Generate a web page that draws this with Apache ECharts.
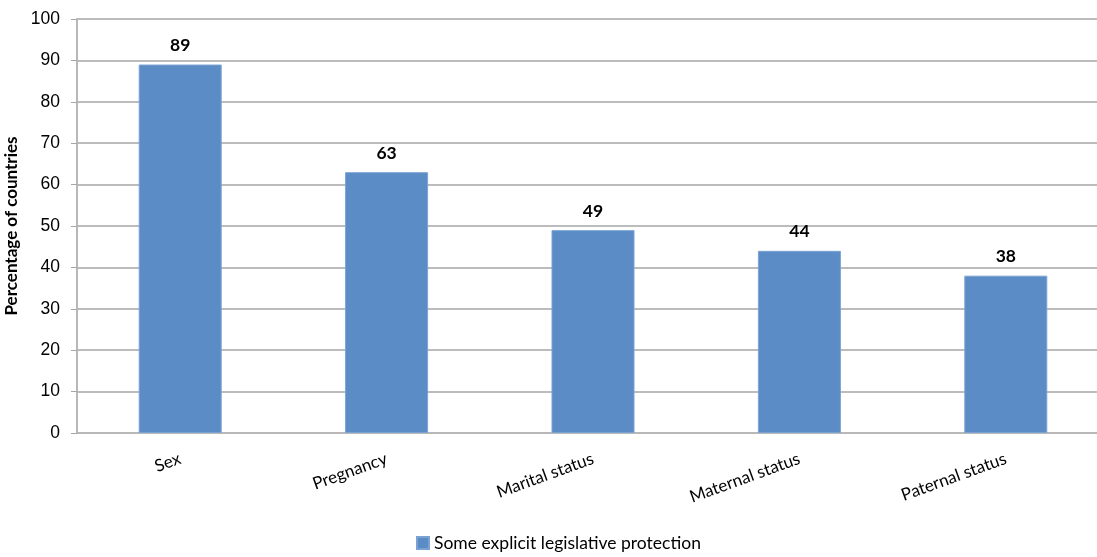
<!DOCTYPE html>
<html>
<head>
<meta charset="utf-8">
<script src="https://cdn.jsdelivr.net/npm/echarts@6/dist/echarts.min.js"></script>
<style>
  html, body { margin: 0; padding: 0; background: #ffffff; }
  #chart { width: 1097px; height: 557px; }
</style>
</head>
<body>
<div id="chart"></div>
<script>
// Grounds for discrimination covered by legislation
const categories = ['Sex', 'Pregnancy', 'Marital status', 'Maternal status', 'Paternal status'];
const protectionShare = [89, 63, 49, 44, 38];
const seriesName = 'Some explicit legislative protection';
const yAxisTitle = 'Percentage of countries';

const chart = echarts.init(document.getElementById('chart'), null, { renderer: 'canvas' });

chart.setOption({
  backgroundColor: '#ffffff',
  animation: false,
  // the plot runs slightly past the right edge of the canvas
  grid: { left: 77, top: 19, width: 1032, height: 414, containLabel: false, outerBoundsMode: 'none' },
  legend: {
    data: [seriesName],
    bottom: 0,
    left: 411,
    itemWidth: 12,
    itemHeight: 12,
    itemGap: 4,
    icon: 'rect',
    textStyle: { fontFamily: 'Lato', fontSize: 17.5, color: '#000000' }
  },
  xAxis: {
    type: 'category',
    data: categories,
    axisLine: { lineStyle: { color: '#b8b8b8', width: 2 } },
    axisTick: { show: false },
    axisLabel: {
      rotate: 20,
      interval: 0,
      margin: 25,
      fontFamily: 'Lato',
      fontSize: 17,
      color: '#000000',
      align: 'right'
    }
  },
  yAxis: {
    type: 'value',
    min: 0,
    max: 100,
    interval: 10,
    name: yAxisTitle,
    nameLocation: 'middle',
    nameGap: 55,
    nameTextStyle: { fontFamily: 'Lato', fontSize: 17, fontWeight: 'bold', color: '#000000' },
    axisLine: { show: true, lineStyle: { color: '#b8b8b8', width: 2 } },
    axisTick: { show: true, length: 6, lineStyle: { color: '#a6a6a6' } },
    axisLabel: { fontFamily: 'Liberation Sans', fontSize: 17.5, color: '#000000', margin: 17 },
    splitLine: { lineStyle: { color: '#a6a6a6', width: 1.5 } }
  },
  series: [{
    name: seriesName,
    type: 'bar',
    data: protectionShare,
    barWidth: 83,
    itemStyle: { color: '#5b8cc6', borderColor: '#7aa3d4', borderWidth: 1 },
    label: {
      show: true,
      position: 'top',
      distance: 10,
      fontFamily: 'Lato',
      fontWeight: 'bold',
      fontSize: 17.5,
      color: '#000000'
    }
  }]
});
</script>
</body>
</html>
